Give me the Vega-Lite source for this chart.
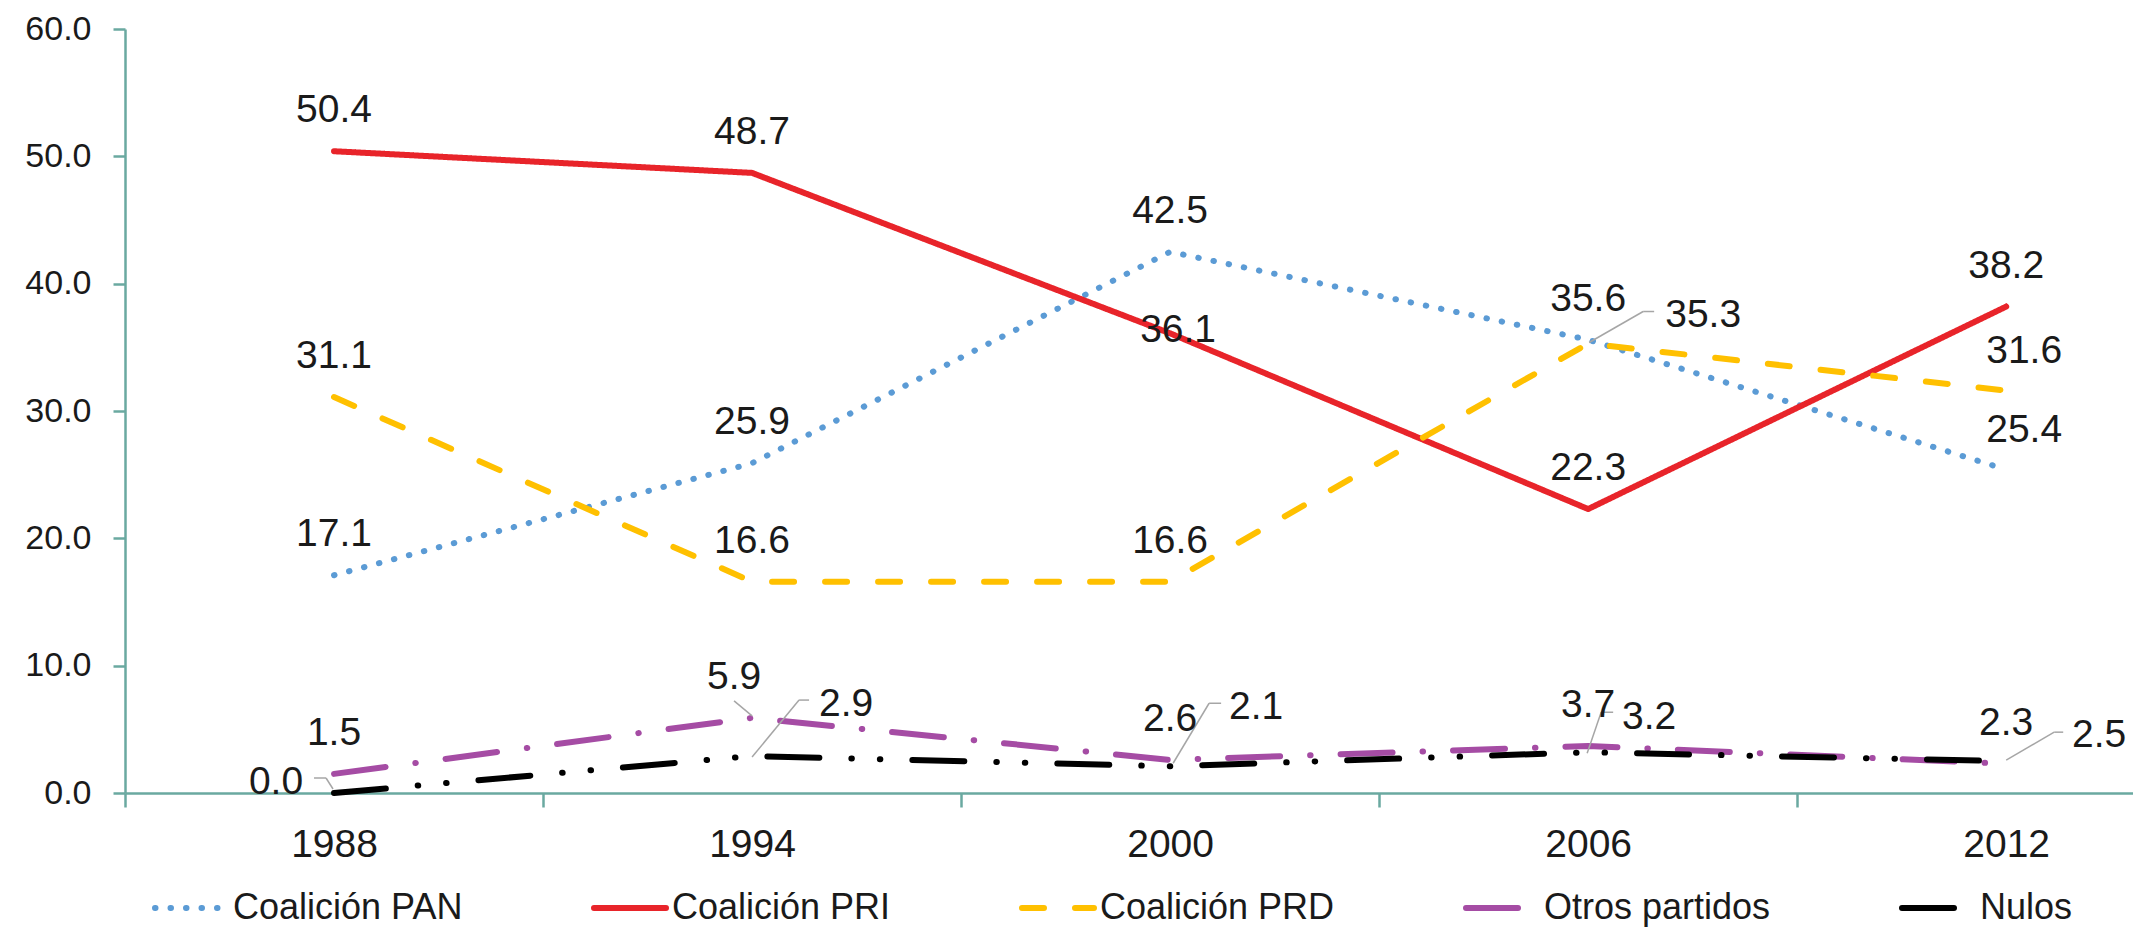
{
  "$schema": "https://vega.github.io/schema/vega-lite/v6.json",
  "width": 2008,
  "height": 764,
  "autosize": {"type": "none"},
  "padding": {"left": 125, "top": 29, "right": 0, "bottom": 144},
  "background": "white",
  "config": {
    "view": {"stroke": null},
    "text": {"font": "Liberation Sans", "fontSize": 39, "color": "#1a1a1a", "align": "center", "baseline": "middle"},
    "axis": {"labelFont": "Liberation Sans", "labelColor": "#1a1a1a", "domainColor": "#6aa9a0", "tickColor": "#6aa9a0", "domainWidth": 2.5, "tickWidth": 2.5, "grid": false, "title": null}
  },
  "data": {
    "values": [
      {"year": 1988, "serie": "Coalición PAN", "value": 17.1},
      {"year": 1988, "serie": "Coalición PRI", "value": 50.4},
      {"year": 1988, "serie": "Coalición PRD", "value": 31.1},
      {"year": 1988, "serie": "Otros partidos", "value": 1.5},
      {"year": 1988, "serie": "Nulos", "value": 0.0},
      {"year": 1994, "serie": "Coalición PAN", "value": 25.9},
      {"year": 1994, "serie": "Coalición PRI", "value": 48.7},
      {"year": 1994, "serie": "Coalición PRD", "value": 16.6},
      {"year": 1994, "serie": "Otros partidos", "value": 5.9},
      {"year": 1994, "serie": "Nulos", "value": 2.9},
      {"year": 2000, "serie": "Coalición PAN", "value": 42.5},
      {"year": 2000, "serie": "Coalición PRI", "value": 36.1},
      {"year": 2000, "serie": "Coalición PRD", "value": 16.6},
      {"year": 2000, "serie": "Otros partidos", "value": 2.6},
      {"year": 2000, "serie": "Nulos", "value": 2.1},
      {"year": 2006, "serie": "Coalición PAN", "value": 35.6},
      {"year": 2006, "serie": "Coalición PRI", "value": 22.3},
      {"year": 2006, "serie": "Coalición PRD", "value": 35.3},
      {"year": 2006, "serie": "Otros partidos", "value": 3.7},
      {"year": 2006, "serie": "Nulos", "value": 3.2},
      {"year": 2012, "serie": "Coalición PAN", "value": 25.4},
      {"year": 2012, "serie": "Coalición PRI", "value": 38.2},
      {"year": 2012, "serie": "Coalición PRD", "value": 31.6},
      {"year": 2012, "serie": "Otros partidos", "value": 2.3},
      {"year": 2012, "serie": "Nulos", "value": 2.5}
    ]
  },
  "encoding": {
    "x": {
      "field": "year", "type": "quantitative",
      "scale": {"domain": [1985, 2013.82], "nice": false, "zero": false},
      "axis": {"values": [1985, 1991, 1997, 2003, 2009], "labelExpr": "'' + (datum.value + 3)", "labelOffset": 209, "labelFontSize": 39, "tickSize": 14, "labelPadding": 18, "labelFlush": false, "labelOverlap": false, "labelBound": false}
    },
    "y": {
      "field": "value", "type": "quantitative",
      "scale": {"domain": [0, 60], "nice": false},
      "axis": {"values": [0, 10, 20, 30, 40, 50, 60], "format": ".1f", "labelFontSize": 34, "tickSize": 12, "labelPadding": 22}
    }
  },
  "layer": [
    {
      "mark": {"type": "line", "strokeWidth": 6, "strokeCap": "round", "strokeJoin": "round"},
      "encoding": {
        "color": {
          "field": "serie", "type": "nominal",
          "scale": {"domain": ["Coalición PAN", "Coalición PRI", "Coalición PRD", "Otros partidos", "Nulos"], "range": ["#5b9bd5", "#e8242a", "#ffc000", "#a54ca4", "#000000"]},
          "legend": {"title": null, "orient": "none", "direction": "horizontal", "legendX": 27, "legendY": 840, "symbolType": "stroke", "symbolSize": 5184, "symbolStrokeWidth": 6, "labelFont": "Liberation Sans", "labelFontSize": 36, "labelColor": "#1a1a1a", "labelLimit": 0, "labelOffset": 3, "columnPadding": 119, "padding": 0, "encode": {"symbols": {"update": {"strokeCap": {"value": "round"}}}}}
        },
        "strokeDash": {
          "field": "serie", "type": "nominal",
          "scale": {"domain": ["Coalición PAN", "Coalición PRI", "Coalición PRD", "Otros partidos", "Nulos"], "range": [[0.5, 15], [1, 0], [22, 31], [52, 30, 0.5, 30], [52, 32, 0.5, 28, 0.5, 32]]},
          "legend": {"title": null, "orient": "none", "direction": "horizontal", "legendX": 27, "legendY": 840, "symbolType": "stroke", "symbolSize": 5184, "symbolStrokeWidth": 6, "labelFont": "Liberation Sans", "labelFontSize": 36, "labelColor": "#1a1a1a", "labelLimit": 0, "labelOffset": 3, "columnPadding": 119, "padding": 0, "encode": {"symbols": {"update": {"strokeCap": {"value": "round"}}}}}
        }
      }
    },
    {"transform": [{"filter": "datum.serie == 'Otros partidos' && datum.year == 1994"}], "mark": {"type": "rule", "color": "#a6a6a6", "strokeWidth": 1.5, "xOffset": -18, "yOffset": -17, "x2Offset": 0, "y2Offset": -2}, "encoding": {"x2": {"field": "year"}, "y2": {"field": "value"}}},
    {"transform": [{"filter": "datum.serie == 'Coalición PRD' && datum.year == 2006"}], "mark": {"type": "rule", "color": "#a6a6a6", "strokeWidth": 1.5, "xOffset": 1, "yOffset": -1, "x2Offset": 55, "y2Offset": -32}, "encoding": {"x2": {"field": "year"}, "y2": {"field": "value"}}},
    {"transform": [{"filter": "datum.serie == 'Coalición PRD' && datum.year == 2006"}], "mark": {"type": "rule", "color": "#a6a6a6", "strokeWidth": 1.5, "xOffset": 55, "yOffset": -32, "x2Offset": 66, "y2Offset": -32}, "encoding": {"x2": {"field": "year"}, "y2": {"field": "value"}}},
    {"transform": [{"filter": "datum.serie == 'Nulos' && datum.year == 1994"}], "mark": {"type": "rule", "color": "#a6a6a6", "strokeWidth": 1.5, "xOffset": 0, "yOffset": 1, "x2Offset": 47, "y2Offset": -56}, "encoding": {"x2": {"field": "year"}, "y2": {"field": "value"}}},
    {"transform": [{"filter": "datum.serie == 'Nulos' && datum.year == 1994"}], "mark": {"type": "rule", "color": "#a6a6a6", "strokeWidth": 1.5, "xOffset": 47, "yOffset": -56, "x2Offset": 57, "y2Offset": -56}, "encoding": {"x2": {"field": "year"}, "y2": {"field": "value"}}},
    {"transform": [{"filter": "datum.serie == 'Nulos' && datum.year == 2000"}], "mark": {"type": "rule", "color": "#a6a6a6", "strokeWidth": 1.5, "xOffset": 3, "yOffset": -3, "x2Offset": 39, "y2Offset": -63}, "encoding": {"x2": {"field": "year"}, "y2": {"field": "value"}}},
    {"transform": [{"filter": "datum.serie == 'Nulos' && datum.year == 2000"}], "mark": {"type": "rule", "color": "#a6a6a6", "strokeWidth": 1.5, "xOffset": 39, "yOffset": -63, "x2Offset": 51, "y2Offset": -63}, "encoding": {"x2": {"field": "year"}, "y2": {"field": "value"}}},
    {"transform": [{"filter": "datum.serie == 'Nulos' && datum.year == 2006"}], "mark": {"type": "rule", "color": "#a6a6a6", "strokeWidth": 1.5, "xOffset": -1, "yOffset": 1, "x2Offset": 13, "y2Offset": -40}, "encoding": {"x2": {"field": "year"}, "y2": {"field": "value"}}},
    {"transform": [{"filter": "datum.serie == 'Nulos' && datum.year == 2006"}], "mark": {"type": "rule", "color": "#a6a6a6", "strokeWidth": 1.5, "xOffset": 13, "yOffset": -40, "x2Offset": 25, "y2Offset": -40}, "encoding": {"x2": {"field": "year"}, "y2": {"field": "value"}}},
    {"transform": [{"filter": "datum.serie == 'Nulos' && datum.year == 1988"}], "mark": {"type": "rule", "color": "#a6a6a6", "strokeWidth": 1.5, "xOffset": -20, "yOffset": -15, "x2Offset": -8, "y2Offset": -15}, "encoding": {"x2": {"field": "year"}, "y2": {"field": "value"}}},
    {"transform": [{"filter": "datum.serie == 'Nulos' && datum.year == 1988"}], "mark": {"type": "rule", "color": "#a6a6a6", "strokeWidth": 1.5, "xOffset": -8, "yOffset": -15, "x2Offset": -1, "y2Offset": -4}, "encoding": {"x2": {"field": "year"}, "y2": {"field": "value"}}},
    {"transform": [{"filter": "datum.serie == 'Nulos' && datum.year == 2012"}], "mark": {"type": "rule", "color": "#a6a6a6", "strokeWidth": 1.5, "xOffset": 0, "yOffset": -1, "x2Offset": 48, "y2Offset": -29}, "encoding": {"x2": {"field": "year"}, "y2": {"field": "value"}}},
    {"transform": [{"filter": "datum.serie == 'Nulos' && datum.year == 2012"}], "mark": {"type": "rule", "color": "#a6a6a6", "strokeWidth": 1.5, "xOffset": 48, "yOffset": -29, "x2Offset": 57, "y2Offset": -29}, "encoding": {"x2": {"field": "year"}, "y2": {"field": "value"}}},
    {"transform": [{"filter": "(datum.serie == 'Coalición PRI' && datum.year != 2000) || (datum.serie == 'Coalición PAN' && datum.year != 2012) || (datum.serie == 'Coalición PRD' && datum.year < 2006) || (datum.serie == 'Otros partidos' && datum.year != 1994)"}], "mark": {"type": "text", "dx": 0, "dy": -41}, "encoding": {"text": {"field": "value", "type": "quantitative", "format": ".1f"}}},
    {"transform": [{"filter": "(datum.serie == 'Coalición PAN' || datum.serie == 'Coalición PRD') && datum.year == 2012"}], "mark": {"type": "text", "dx": 18, "dy": -40}, "encoding": {"text": {"field": "value", "type": "quantitative", "format": ".1f"}}},
    {"transform": [{"filter": "datum.serie == 'Otros partidos' && datum.year == 1994"}], "mark": {"type": "text", "dx": -18, "dy": -41}, "encoding": {"text": {"field": "value", "type": "quantitative", "format": ".1f"}}},
    {"transform": [{"filter": "datum.serie == 'Coalición PRI' && datum.year == 2000"}], "mark": {"type": "text", "dx": 8, "dy": -3}, "encoding": {"text": {"field": "value", "type": "quantitative", "format": ".1f"}}},
    {"transform": [{"filter": "datum.serie == 'Coalición PRD' && datum.year == 2006"}], "mark": {"type": "text", "dx": 115, "dy": -29}, "encoding": {"text": {"field": "value", "type": "quantitative", "format": ".1f"}}},
    {"transform": [{"filter": "datum.serie == 'Nulos' && datum.year == 1994"}], "mark": {"type": "text", "dx": 94, "dy": -52}, "encoding": {"text": {"field": "value", "type": "quantitative", "format": ".1f"}}},
    {"transform": [{"filter": "datum.serie == 'Nulos' && datum.year == 2000"}], "mark": {"type": "text", "dx": 86, "dy": -59}, "encoding": {"text": {"field": "value", "type": "quantitative", "format": ".1f"}}},
    {"transform": [{"filter": "datum.serie == 'Nulos' && datum.year == 2006"}], "mark": {"type": "text", "dx": 61, "dy": -35}, "encoding": {"text": {"field": "value", "type": "quantitative", "format": ".1f"}}},
    {"transform": [{"filter": "datum.serie == 'Nulos' && datum.year == 1988"}], "mark": {"type": "text", "dx": -58, "dy": -11}, "encoding": {"text": {"field": "value", "type": "quantitative", "format": ".1f"}}},
    {"transform": [{"filter": "datum.serie == 'Nulos' && datum.year == 2012"}], "mark": {"type": "text", "dx": 93, "dy": -26}, "encoding": {"text": {"field": "value", "type": "quantitative", "format": ".1f"}}}
  ]
}
